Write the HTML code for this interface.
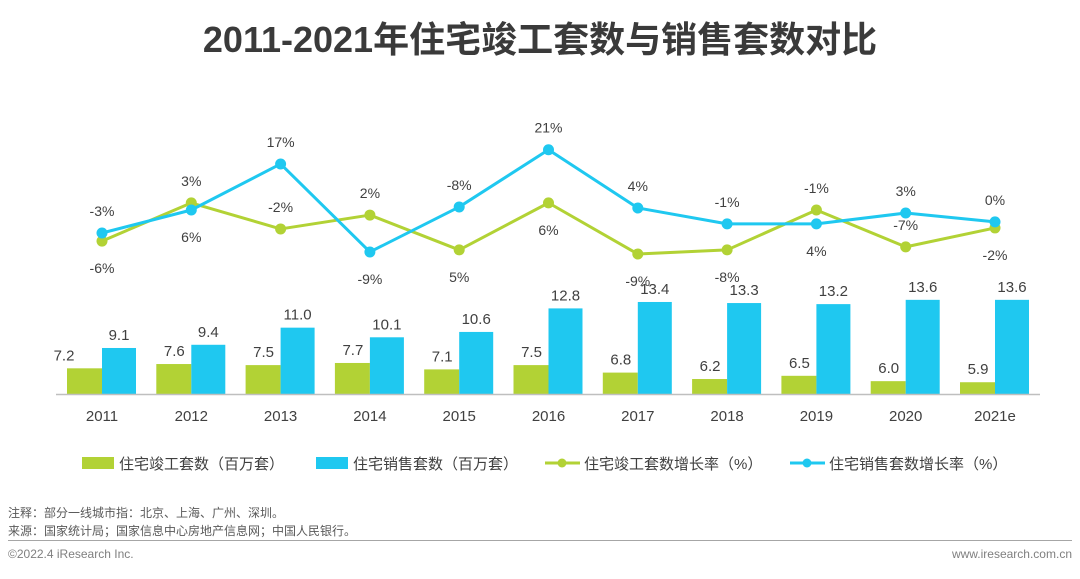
<!DOCTYPE html>
<html><head><meta charset="utf-8"><style>
body{margin:0;width:1080px;height:574px;background:#fff;overflow:hidden;font-family:"Liberation Sans","Noto Sans CJK SC",sans-serif;}
</style></head><body>
<svg id="c" width="1080" height="574" viewBox="0 0 1080 574" xmlns="http://www.w3.org/2000/svg">
<text x="540" y="52" text-anchor="middle" font-size="36" font-weight="bold" fill="#3a3a3a" font-family="Liberation Sans, Noto Sans CJK SC, sans-serif">2011-2021年住宅竣工套数与销售套数对比</text>
<g id="bars"></g><g id="lines"></g><g id="labels"></g>
<line x1="56" y1="394.5" x2="1040" y2="394.5" stroke="#bfbfbf" stroke-width="1.5"/>
<g font-size="15" fill="#404040">
<g><rect x="82" y="457" width="32" height="12" fill="#b2d235"/><text x="119" y="469">住宅竣工套数（百万套）</text></g>
<g><rect x="316" y="457" width="32" height="12" fill="#1fc8f0"/><text x="353" y="469">住宅销售套数（百万套）</text></g>
<g><line x1="545" y1="463" x2="580" y2="463" stroke="#b2d235" stroke-width="3"/><circle cx="562" cy="463" r="4.5" fill="#b2d235"/><text x="584" y="469">住宅竣工套数增长率（%）</text></g>
<g><line x1="790" y1="463" x2="825" y2="463" stroke="#1fc8f0" stroke-width="3"/><circle cx="807" cy="463" r="4.5" fill="#1fc8f0"/><text x="829" y="469">住宅销售套数增长率（%）</text></g>
</g>
<text x="8" y="517" font-size="12" fill="#595959">注释：部分一线城市指：北京、上海、广州、深圳。</text>
<text x="8" y="535" font-size="12" fill="#595959">来源：国家统计局；国家信息中心房地产信息网；中国人民银行。</text>
<line x1="8" y1="540.5" x2="1072" y2="540.5" stroke="#a6a6a6" stroke-width="1"/>
<text x="8" y="558" font-size="12" fill="#7f7f7f">©2022.4 iResearch Inc.</text>
<text x="1072" y="558" text-anchor="end" font-size="12" fill="#7f7f7f">www.iresearch.com.cn</text>
</svg>
<script>
const years=["2011","2012","2013","2014","2015","2016","2017","2018","2019","2020","2021e"];
const completed=[7.2,7.6,7.5,7.7,7.1,7.5,6.8,6.2,6.5,6.0,5.9];
const sales=[9.1,9.4,11.0,10.1,10.6,12.8,13.4,13.3,13.2,13.6,13.6];
const completedGrowth=[-5.8,5.5,-2.2,1.9,-8.4,5.5,-9.6,-8.4,3.4,-7.5,-1.9];
const salesGrowth=[-3.4,3.4,17,-9,4.3,21.2,4.0,-0.7,-0.7,2.5,-0.1];
const completedGrowthLabels=["-6%","3%","-2%","2%","5%","6%","-9%","-8%","-1%","-7%","-2%"];
const completedGrowthLabelAbove=[false,true,true,true,false,false,false,false,true,true,false];
const salesGrowthLabels=["-3%","6%","17%","-9%","-8%","21%","4%","-1%","4%","3%","0%"];
const salesGrowthLabelAbove=[true,false,true,false,true,true,true,true,false,true,true];
const NS="http://www.w3.org/2000/svg";
const xC=i=>102+i*89.3;
const yBar=v=>394-(v-4.8)*10.7;
const yLine=v=>221.5-v*3.385;
function mk(tag,attrs,parent){const e=document.createElementNS(NS,tag);for(const k in attrs)e.setAttribute(k,attrs[k]);parent.appendChild(e);return e;}
const gb=document.getElementById('bars'),gl=document.getElementById('lines'),gt=document.getElementById('labels');
years.forEach((y,i)=>{
  const x=xC(i);
  let r=mk('rect',{x:x-35,y:yBar(completed[i]),width:35,height:394-yBar(completed[i]),fill:'#b2d235'},gb);
  
  
  let r2=mk('rect',{x:x,y:yBar(sales[i]),width:34,height:394-yBar(sales[i]),fill:'#1fc8f0'},gb);
  
  
  let t=mk('text',{x:i===0?x-38:x-17,y:yBar(completed[i])-8,'text-anchor':'middle','font-size':15,fill:'#404040'},gt);t.textContent=completed[i].toFixed(1);
  
  
  let t2=mk('text',{x:x+17,y:yBar(sales[i])-8,'text-anchor':'middle','font-size':15,fill:'#404040'},gt);t2.textContent=sales[i].toFixed(1);
  
  
  let yl=mk('text',{x:x,y:421,'text-anchor':'middle','font-size':15,fill:'#404040'},gt);yl.textContent=y;
  
  
});
function series(vals,color,name,labels,above){
  const p=mk('polyline',{points:vals.map((v,i)=>xC(i)+','+yLine(v)).join(' '),fill:'none',stroke:color,'stroke-width':3,'stroke-linejoin':'round'},gl);
  
  
  vals.forEach((v,i)=>{
    const c=mk('circle',{cx:xC(i),cy:yLine(v),r:5.5,fill:color},gl);
    
    
    const t=mk('text',{x:xC(i),y:yLine(v)+(above[i]?-17:32),'text-anchor':'middle','font-size':14,fill:'#404040'},gt);
    t.textContent=labels[i];
    
    
  });
}
series(completedGrowth,'#b2d235','completed-growth',completedGrowthLabels,completedGrowthLabelAbove);
series(salesGrowth,'#1fc8f0','sales-growth',salesGrowthLabels,salesGrowthLabelAbove);
</script>
</body></html>
